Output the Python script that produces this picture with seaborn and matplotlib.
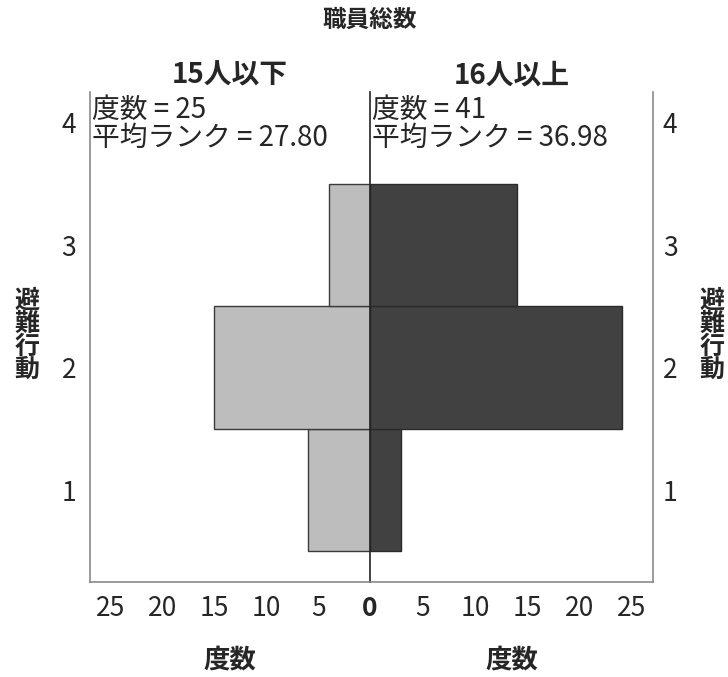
import matplotlib
matplotlib.use("Agg")
import matplotlib.pyplot as plt
import seaborn as sns

# 避難行動 levels and counts per group
levels = [1, 2, 3]
counts_small = [6, 15, 4]    # 15人以下
counts_large = [3, 24, 14]   # 16人以上
group_names = ["15人以下", "16人以上"]
group_n = [25, 41]
mean_ranks = [27.80, 36.98]
y_ticks = [1, 2, 3, 4]
left_xticks = [0, 5, 10, 15, 20, 25]
right_xticks = [5, 10, 15, 20, 25]

sns.set_style("white")
plt.rcParams['font.family'] = ['Noto Sans CJK JP', 'DejaVu Sans']

fig = plt.figure(figsize=(7.28, 6.77), dpi=100)
x0, xm, x1 = 90 / 728, 370 / 728, 653 / 728
yb, yt = 1 - 582 / 677, 1 - 92 / 677
ax_l = fig.add_axes([x0, yb, xm - x0, yt - yb])
ax_r = fig.add_axes([xm, yb, x1 - xm, yt - yb], sharey=ax_l)

sns.histplot(y=levels, weights=counts_small, discrete=True, shrink=1,
             color="#bdbdbd", edgecolor="#3a3a3a", linewidth=1, alpha=1, ax=ax_l)
sns.histplot(y=levels, weights=counts_large, discrete=True, shrink=1,
             color="#414141", edgecolor="#2a2a2a", linewidth=1, alpha=1, ax=ax_r)

ax_l.set_xlim(27, 0)
ax_r.set_xlim(0, 27)
ax_l.set_ylim(0.25, 4.25)

for ax in (ax_l, ax_r):
    ax.set_xlabel("")
    ax.set_ylabel("")
    ax.spines['top'].set_visible(False)
    ax.tick_params(length=0, labelsize=19)
    ax.tick_params(axis='x', pad=9)

ax_l.spines['right'].set_visible(False)
ax_l.spines['left'].set_color("#8a8a8a")
ax_l.spines['bottom'].set_color("#8a8a8a")
ax_r.spines['left'].set_color("#222222")
ax_r.spines['right'].set_color("#8a8a8a")
ax_r.spines['bottom'].set_color("#8a8a8a")
for ax in (ax_l, ax_r):
    for s in ax.spines.values():
        s.set_linewidth(1.2)

ax_l.set_yticks(y_ticks)
ax_l.set_yticklabels([str(v) for v in y_ticks])
ax_l.tick_params(axis='y', pad=10)
ax_r.yaxis.tick_right()
ax_r.tick_params(axis='y', labelright=True, labelleft=False, pad=7)

ax_l.set_xticks(left_xticks)
ax_l.set_xticklabels([str(v) for v in left_xticks])
ax_l.get_xticklabels()[0].set_fontweight('bold')
ax_r.set_xticks(right_xticks)
ax_r.set_xticklabels([str(v) for v in right_xticks])

for ax, name, n, mr in zip((ax_l, ax_r), group_names, group_n, mean_ranks):
    ax.text(0.008, 0.995, f"度数 = {n}\n平均ランク = {mr:.2f}", transform=ax.transAxes,
            ha='left', va='top', fontsize=20, linespacing=0.95)
    ax.set_title(name, fontsize=20, fontweight='bold', pad=6)
    ax.set_xlabel("度数", fontsize=19, fontweight='bold', labelpad=18)

fig.text(370 / 728, 1 - 20 / 677, "職員総数", ha='center', va='center',
         fontsize=17, fontweight='bold')
for xp in (27 / 728, 712 / 728):
    fig.text(xp, 1 - 335 / 677, "避\n難\n行\n動", ha='center', va='center',
             fontsize=18, fontweight='bold', linespacing=0.95)

fig.savefig("out.png", dpi=100)
